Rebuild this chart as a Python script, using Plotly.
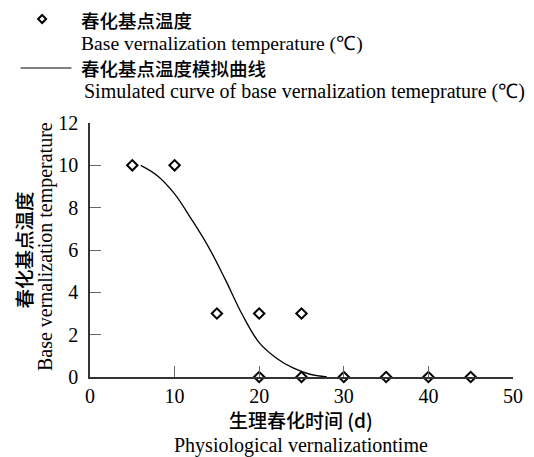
import plotly.graph_objects as go

# Observed base vernalization temperature points
obs_days = [5, 10, 15, 20, 25, 20, 25, 30, 35, 40, 45]
obs_temp = [10, 10, 3, 3, 3, 0, 0, 0, 0, 0, 0]

# Simulated curve
sim_days = [6, 8, 10, 12, 14, 16, 18, 20, 22, 24, 26, 28]
sim_temp = [10.0, 9.5, 8.65, 7.45, 6.15, 4.6, 2.95, 1.62, 0.9, 0.43, 0.13, 0.0]

x_ticks = [0, 10, 20, 30, 40, 50]
y_ticks = [0, 2, 4, 6, 8, 10, 12]

SERIF = "Liberation Serif, Times New Roman, serif"
CJK = "Noto Sans CJK SC"

fig = go.Figure()
fig.add_trace(go.Scatter(x=sim_days, y=sim_temp, mode="lines",
                         line=dict(color="black", width=1.3, shape="spline"),
                         showlegend=False, cliponaxis=False))
fig.add_trace(go.Scatter(x=obs_days, y=obs_temp, mode="markers",
                         marker=dict(symbol="diamond-open", size=8, color="black",
                                     line=dict(width=2, color="black")),
                         showlegend=False, cliponaxis=False))

OFF = 8  # page body margin
W, H = 534 - OFF, 457 - OFF
L, R, T, B = 82, 11, 115, 80

def px(xp):
    return (xp - OFF - L) / (W - L - R)

def py(yp):
    return (H - B - (yp - OFF)) / (H - T - B)

anns = []
def txt(x, y, s, size, font, xanchor="left", angle=0, weight="normal"):
    anns.append(dict(x=px(x), y=py(y), xref="paper", yref="paper", text=s, showarrow=False,
                     xanchor=xanchor, yanchor="middle", textangle=angle, borderpad=0,
                     font=dict(family=font, size=size, color="black", weight=weight)))

# Legend texts
txt(80, 20, "春化基点温度", 18.5, CJK, weight=500)
txt(80, 44, "Base vernalization temperature (℃)", 19.6, SERIF)
txt(80, 68, "春化基点温度模拟曲线", 18.5, CJK, weight=500)
txt(83, 91, "Simulated curve of base vernalization temeprature (℃)", 20, SERIF)

# Axis titles
txt(306, 419, "生理春化时间 (d)", 19, CJK, xanchor="center", weight=500)
txt(306, 445, "Physiological vernalizationtime", 20, SERIF, xanchor="center")
txt(21, 250, "春化基点温度", 19.5, CJK, xanchor="center", angle=-90, weight=500)
txt(44, 247, "Base vernalization temperature", 20, SERIF, xanchor="center", angle=-90)

shapes = [
    dict(type="line", xref="paper", yref="paper", x0=px(19), x1=px(71), y0=py(68), y1=py(68),
         line=dict(color="black", width=1.2)),
    dict(type="path", xref="paper", yref="paper", xsizemode="pixel", ysizemode="pixel",
         xanchor=px(41), yanchor=py(19),
         path="M 0 4 L 4 0 L 0 -4 L -4 0 Z", line=dict(color="black", width=2)),
]

fig.update_layout(
    width=W, height=H,
    margin=dict(l=L, r=R, t=T, b=B, pad=0),
    plot_bgcolor="white", paper_bgcolor="white",
    showlegend=False,
    annotations=anns, shapes=shapes,
    xaxis=dict(range=[0, 50], tickvals=x_ticks, ticks="inside", ticklen=11, tickcolor="#666",
               showline=True, linecolor="#333", linewidth=1.5, showgrid=False, zeroline=False,
               tickfont=dict(family=SERIF, size=20, color="black"), ticklabelstandoff=0),
    yaxis=dict(range=[0, 12], tickvals=y_ticks, ticks="inside", ticklen=11, tickcolor="#666",
               showline=True, linecolor="#333", linewidth=1.5, showgrid=False, zeroline=False,
               tickfont=dict(family=SERIF, size=20, color="black"), ticklabelstandoff=6),
)

fig.write_html("out.html")
